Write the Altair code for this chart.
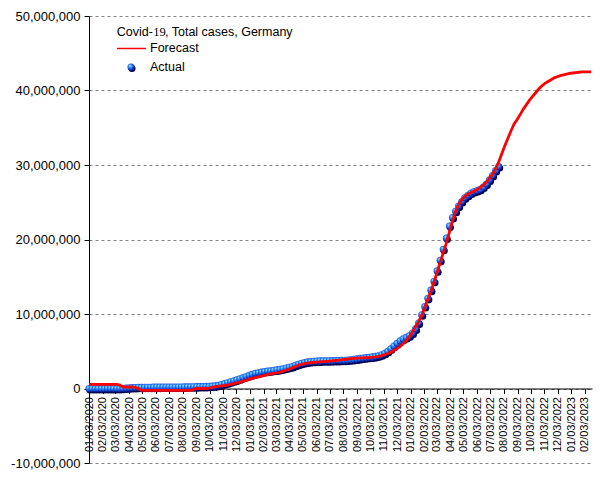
import altair as alt
import pandas as pd

# ---------------- data (millions of cases, weekly from 2020-01-03) ----------------
actual_millions = [
    0, 0, 0, 0, 0, 0, 0, 0, 0,
    0.001, 0.006, 0.025, 0.06,
    0.10, 0.125, 0.143, 0.156,
    0.164, 0.170, 0.175, 0.179, 0.182,
    0.185, 0.187, 0.191, 0.195,
    0.197, 0.199, 0.202, 0.206, 0.211,
    0.217, 0.224, 0.233, 0.242,
    0.249, 0.259, 0.271, 0.283,
    0.296, 0.320, 0.357, 0.425, 0.530,
    0.660, 0.780, 0.915, 1.035,
    1.160, 1.300, 1.470, 1.620,
    # 2021
    1.760, 1.900, 2.030, 2.120, 2.200,
    2.280, 2.335, 2.385, 2.440,
    2.500, 2.570, 2.650, 2.750,
    2.860, 2.960, 3.110, 3.250, 3.380,
    3.490, 3.570, 3.620, 3.660,
    3.690, 3.705, 3.718, 3.727,
    3.733, 3.743, 3.753, 3.767, 3.782,
    3.798, 3.825, 3.862, 3.912,
    3.972, 4.040, 4.094, 4.145,
    4.193, 4.242, 4.310, 4.405, 4.540,
    4.730, 4.990, 5.330, 5.710,
    6.070, 6.400, 6.660, 6.860, 7.070,
    # 2022
    7.450, 8.000, 8.800, 9.900,
    11.00, 12.10, 13.20, 14.40,
    15.80, 17.20, 18.70, 20.20,
    21.80, 22.95, 23.80, 24.50, 25.10,
    25.60, 25.95, 26.25, 26.45,
    26.58, 26.75, 27.05, 27.45,
    28.00, 28.60, 29.25, 29.80,
]

forecast_millions = [
    0.55, 0.55, 0.55, 0.55, 0.55, 0.55, 0.55, 0.55, 0.55, 0.55,
    0.45, 0.2, 0.2, 0.2, 0.2, 0.15, 0.0,
    -0.25, -0.25, -0.25, -0.25, -0.25, -0.25, -0.25, -0.25, -0.25,
    -0.25, -0.25, -0.25, -0.25, -0.25, -0.25, -0.25, -0.25,
    -0.1, 0.0, 0.0, 0.0, 0.0,
    0.05, 0.15, 0.25, 0.3, 0.35, 0.4, 0.45, 0.55, 0.65, 0.75, 0.85, 1.0, 1.1,
    # 2021
    1.25, 1.35, 1.45, 1.55, 1.65, 1.75, 1.85, 1.95, 2.02, 2.1, 2.18, 2.3, 2.45,
    2.6, 2.78, 2.95, 3.12, 3.25, 3.35, 3.42, 3.47, 3.5, 3.53, 3.56, 3.6, 3.64,
    3.68, 3.72, 3.76, 3.8, 3.85, 3.9, 3.95, 4.0, 4.05, 4.08, 4.1, 4.12, 4.14,
    4.16, 4.2, 4.25, 4.32, 4.42, 4.55, 4.7, 4.88, 5.1, 5.35, 5.65, 6.0, 6.45, 7.0,
    # 2022
    7.6, 8.3, 9.0, 9.8, 10.9, 12.0, 13.1, 14.3, 15.6, 16.9, 18.2, 19.5,
    21.0, 22.5, 23.8, 24.7, 25.35, 25.8, 26.1, 26.3, 26.5, 26.7, 27.0, 27.3, 27.7,
    28.2, 28.8, 29.5, 30.4, 31.5, 32.6, 33.6, 34.6, 35.5, 36.1, 36.8, 37.5, 38.1,
    38.7, 39.2, 39.7, 40.2, 40.6, 40.95, 41.2, 41.45, 41.7, 41.85, 42.0, 42.1, 42.2,
    42.3,
    # 2023
    42.35, 42.4, 42.45, 42.5, 42.5, 42.5, 42.5,
]

y_ticks = [-10_000_000, 0, 10_000_000, 20_000_000, 30_000_000, 40_000_000, 50_000_000]
tick_months = [(y, m) for y in (2020, 2021, 2022, 2023) for m in range(1, 13) if (y, m) <= (2023, 2)]

legend_title = ["Covid-", "19", ", Total cases, Germany"]
legend_labels = ["Forecast", "Actual"]

# ---------------- tables ----------------
actual_df = pd.DataFrame({
    "date": pd.date_range("2020-01-03", periods=len(actual_millions), freq="7D"),
    "cases": [v * 1_000_000 for v in actual_millions],
})
forecast_df = pd.DataFrame({
    "date": pd.date_range("2020-01-03", periods=len(forecast_millions), freq="7D"),
    "cases": [v * 1_000_000 for v in forecast_millions],
})

SANS = "Liberation Sans"
SERIF = "Liberation Serif"

x_axis = alt.Axis(
    title=None,
    values=[alt.DateTime(year=y, month=m, date=3) for y, m in tick_months],
    format="%m/%d/%Y",
    labelAngle=270,
    labelAlign="right",
    labelBaseline="middle",
    labelFont=SANS,
    labelFontSize=11,
    labelColor="black",
    labelPadding=3,
    labelFlush=False,
    labelOverlap=False,
    tickColor="black",
    tickSize=5,
    domainColor="black",
    grid=False,
    offset=-74.5,
)
y_axis = alt.Axis(
    title=None,
    values=y_ticks,
    labelExpr="(datum.value < 0 ? '-' : '') + format(abs(datum.value), ',d')",
    labelFont=SANS,
    labelFontSize=13,
    labelColor="black",
    labelPadding=4,
    tickColor="black",
    tickSize=5,
    domainColor="black",
    grid=True,
    gridColor="#808080",
    gridDash=[3, 3],
    gridWidth=1,
)

x_enc = alt.X(
    "date:T",
    scale=alt.Scale(domain=[alt.DateTime(year=2020, month=1, date=3),
                            alt.DateTime(year=2023, month=2, date=19)]),
    axis=x_axis,
)
y_enc = alt.Y("cases:Q", scale=alt.Scale(domain=[-10_000_000, 50_000_000], nice=False, zero=False), axis=y_axis)

sphere = alt.RadialGradient(
    gradient="radial",
    x1=0.35, y1=0.3, r1=0.0,
    x2=0.45, y2=0.45, r2=0.6,
    stops=[
        alt.GradientStop(offset=0.0, color="#d6f2ff"),
        alt.GradientStop(offset=0.25, color="#4ab0ff"),
        alt.GradientStop(offset=0.6, color="#1a62f0"),
        alt.GradientStop(offset=0.85, color="#0a2aa8"),
        alt.GradientStop(offset=1.0, color="#000060"),
    ],
)

PT = 50

shadow = alt.Chart(actual_df).mark_point(
    shape="circle", filled=True, fill="#000050", size=PT, opacity=1, strokeWidth=0,
    xOffset=1, yOffset=1.5,
).encode(x=x_enc, y=y_enc)

points = alt.Chart(actual_df).mark_point(
    shape="circle", filled=True, fill=sphere, size=PT, opacity=1, strokeWidth=0,
).encode(x=x_enc, y=y_enc)

line = alt.Chart(forecast_df).mark_line(color="#ff0000", strokeWidth=2.8).encode(x=x_enc, y=y_enc)

one = pd.DataFrame({"k": [0]})
leg_t1 = alt.Chart(one).mark_text(text=legend_title[0], font=SANS, fontSize=12.5, align="left",
                                  baseline="alphabetic", color="black").encode(x=alt.value(27.7), y=alt.value(19.5))
leg_t2 = alt.Chart(one).mark_text(text=legend_title[1], font=SERIF, fontSize=12.5, align="left",
                                  baseline="alphabetic", color="black").encode(x=alt.value(64.3), y=alt.value(19.5))
leg_t3 = alt.Chart(one).mark_text(text=legend_title[2], font=SANS, fontSize=12.5, align="left",
                                  baseline="alphabetic", color="black").encode(x=alt.value(76), y=alt.value(19.5))
leg_line = alt.Chart(one).mark_rule(color="#ff0000", strokeWidth=1.5).encode(
    x=alt.value(28), x2=alt.value(57), y=alt.value(32.5))
leg_f = alt.Chart(one).mark_text(text=legend_labels[0], font=SANS, fontSize=12.5, align="left",
                                 baseline="alphabetic", color="black").encode(x=alt.value(61), y=alt.value(36))
leg_shadow = alt.Chart(one).mark_point(shape="circle", filled=True, fill="#000050", size=PT, opacity=1,
                                       strokeWidth=0, xOffset=1, yOffset=1.5).encode(x=alt.value(42), y=alt.value(51))
leg_pt = alt.Chart(one).mark_point(shape="circle", filled=True, fill=sphere, size=PT, opacity=1,
                                   strokeWidth=0).encode(x=alt.value(42), y=alt.value(51))
leg_a = alt.Chart(one).mark_text(text=legend_labels[1], font=SANS, fontSize=12.5, align="left",
                                 baseline="alphabetic", color="black").encode(x=alt.value(61), y=alt.value(55))

chart = alt.layer(
    shadow, points, line,
    leg_t1, leg_t2, leg_t3, leg_line, leg_f, leg_shadow, leg_pt, leg_a,
).properties(
    width=503,
    height=447,
    autosize=alt.AutoSizeParams(type="none"),
    padding={"left": 81, "top": 8, "right": 2, "bottom": 10},
    background="white",
).configure_view(stroke=None)

chart.save("out.html", embed_options={"renderer": "svg", "actions": False})
